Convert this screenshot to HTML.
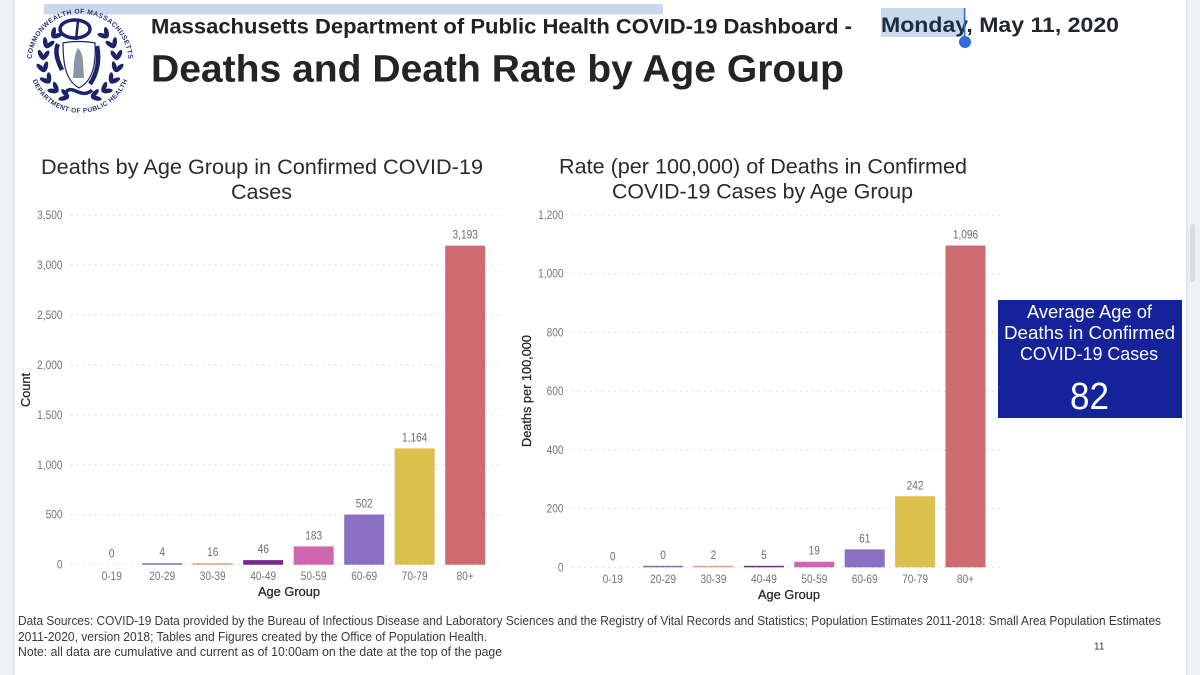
<!DOCTYPE html>
<html lang="en">
<head>
<meta charset="utf-8">
<title>Massachusetts COVID-19 Dashboard: Deaths and Death Rate by Age Group</title>
<style>
  html, body { margin: 0; padding: 0; background: #fff; width: 1200px; height: 675px; overflow: hidden; }
  svg { display: block; font-family: "Liberation Sans", sans-serif; }
  .tick { font-size: 11.5px; fill: #747474; }
  .val { font-size: 11.5px; fill: #6c6c6c; }
  .ctitle { font-size: 21.5px; fill: #2b2b2b; }
  .axt { font-size: 12.5px; fill: #252525; stroke: #252525; stroke-width: .25px; }
  .foot { font-size: 12.5px; fill: #3a3a3a; }
  .kpi { font-size: 18px; fill: #fff; }
</style>
</head>
<body>
<svg id="page" width="1200" height="675" viewBox="0 0 1200 675">
  <rect x="0" y="0" width="1200" height="675" fill="#fff"/>
  <rect x="0" y="0" width="13" height="675" fill="#eff0f6"/>
  <rect x="13" y="0" width="1.5" height="675" fill="#dfe0e6"/>
  <rect x="1187" y="0" width="13" height="675" fill="#eff0f6"/>
  <rect x="1186" y="0" width="1.5" height="675" fill="#e3e4ea"/>
  <rect x="1190" y="224" width="5" height="58" rx="2.5" fill="#dcdde3"/>

  <rect x="44" y="4" width="619" height="10.5" fill="#c9d8ea"/>
  <rect x="881" y="8" width="84" height="29" fill="#c9d8ea"/>

  <g id="logo">
    <defs>
      <path id="arcTop" d="M 31.5 62 A 48.5 48.5 0 1 1 128.5 62"/>
      <path id="arcBot" d="M 31 76 A 51 51 0 0 0 129 76"/>
    </defs>
    <text font-size="6.8" font-weight="bold" fill="#2b3474"><textPath href="#arcTop" startOffset="50%" text-anchor="middle" textLength="146">COMMONWEALTH OF MASSACHUSETTS</textPath></text>
    <text font-size="6.6" font-weight="bold" fill="#2b3474"><textPath href="#arcBot" startOffset="50%" text-anchor="middle" textLength="122">DEPARTMENT OF PUBLIC HEALTH</textPath></text>
    <ellipse cx="75" cy="29" rx="15" ry="9" fill="none" stroke="#1b2468" stroke-width="3.5"/>
    <path d="M58 44 C 54 52 58 62 62 70 M97 46 C 100 60 97 74 90 84" fill="none" stroke="#1b2468" stroke-width="4.5"/>
    <path d="M78 21 L 76 40" fill="none" stroke="#1b2468" stroke-width="2.5"/>
    <path d="M63 43 C 72 41 86 41 95 43 C 96 62 94 80 79 88 C 65 80 63 62 63 43 Z" fill="#fff" stroke="#1b2468" stroke-width="1.2"/>
    <path d="M78 48 C 75 53 74 60 74 66 L 73 78 L 84 78 L 83 62 C 83 56 81 51 78 48 Z" fill="#8d93a8"/>
    <path d="M66 92 C 72 84 82 100 92 90" fill="none" stroke="#1b2468" stroke-width="3.5"/>
  </g>

  <text x="151" y="33.5" font-size="21" font-weight="bold" fill="#222" textLength="701" lengthAdjust="spacingAndGlyphs">Massachusetts Department of Public Health COVID-19 Dashboard -</text>
  <text x="151" y="81.5" font-size="38" font-weight="bold" fill="#242424" textLength="693" lengthAdjust="spacingAndGlyphs">Deaths and Death Rate by Age Group</text>
  <text x="881" y="32" font-size="21" font-weight="bold" fill="#23262e" textLength="238" lengthAdjust="spacingAndGlyphs"><tspan fill="#1d2c45">Monday</tspan>, May 11, 2020</text>
  <rect x="963.8" y="8" width="1.6" height="34" fill="#2f6ad6"/>
  <circle cx="965" cy="42" r="6" fill="#2f6ad6"/>

  <text class="ctitle" x="41" y="174" textLength="442" lengthAdjust="spacingAndGlyphs">Deaths by Age Group in Confirmed COVID-19</text>
  <text class="ctitle" x="231" y="199" textLength="61" lengthAdjust="spacingAndGlyphs">Cases</text>
  <text class="ctitle" x="559" y="173.5" textLength="408" lengthAdjust="spacingAndGlyphs">Rate (per 100,000) of Deaths in Confirmed</text>
  <text class="ctitle" x="612" y="198.5" textLength="301" lengthAdjust="spacingAndGlyphs">COVID-19 Cases by Age Group</text>

  <g id="chart-deaths"></g>
  <g id="chart-rate"></g>

  <text class="axt" transform="translate(30 390) rotate(-90)" text-anchor="middle" textLength="34" lengthAdjust="spacingAndGlyphs">Count</text>
  <text class="axt" transform="translate(531 391) rotate(-90)" text-anchor="middle" textLength="112" lengthAdjust="spacingAndGlyphs">Deaths per 100,000</text>
  <text class="axt" x="258" y="596" textLength="62" lengthAdjust="spacingAndGlyphs">Age Group</text>
  <text class="axt" x="758" y="599" textLength="62" lengthAdjust="spacingAndGlyphs">Age Group</text>

  <g>
    <rect x="998" y="300" width="184" height="118" fill="#14239a"/>
    <text class="kpi" x="1027" y="318" textLength="125" lengthAdjust="spacingAndGlyphs">Average Age of</text>
    <text class="kpi" x="1004" y="339" textLength="171" lengthAdjust="spacingAndGlyphs">Deaths in Confirmed</text>
    <text class="kpi" x="1020" y="360" textLength="138" lengthAdjust="spacingAndGlyphs">COVID-19 Cases</text>
    <text x="1070" y="409" font-size="38" fill="#fff" textLength="39" lengthAdjust="spacingAndGlyphs">82</text>
  </g>

  <text class="foot" x="18" y="625" textLength="1143" lengthAdjust="spacingAndGlyphs">Data Sources: COVID-19 Data provided by the Bureau of Infectious Disease and Laboratory Sciences and the Registry of Vital Records and Statistics; Population Estimates 2011-2018: Small Area Population Estimates</text>
  <text class="foot" x="18" y="641" textLength="469" lengthAdjust="spacingAndGlyphs">2011-2020, version 2018; Tables and Figures created by the Office of Population Health.</text>
  <text class="foot" x="18" y="656" textLength="484" lengthAdjust="spacingAndGlyphs">Note: all data are cumulative and current as of 10:00am on the date at the top of the page</text>
  <text x="1094" y="649.5" font-size="10" fill="#333">11</text>
</svg>

<script>
const ageGroups = ["0-19", "20-29", "30-39", "40-49", "50-59", "60-69", "70-79", "80+"];
const deathCounts = [0, 4, 16, 46, 183, 502, 1164, 3193];
const deathRates = [0, 0.2, 2, 5, 19, 61, 242, 1096];
const countTicks = [0, 500, 1000, 1500, 2000, 2500, 3000, 3500];
const rateTicks = [0, 200, 400, 600, 800, 1000, 1200];
const barColors = ["#5f6bb0", "#6f76b4", "#e2a283", "#74288c", "#d066b0", "#8b6fc4", "#dbc04e", "#cd6b70"];

const NS = "http://www.w3.org/2000/svg";
function fmt(v) {
  return Math.round(v).toLocaleString("en-US");
}
function condense(textEl) {
  textEl.setAttribute("textLength", textEl.getComputedTextLength() * 0.88);
  textEl.setAttribute("lengthAdjust", "spacingAndGlyphs");
}
function drawChart(rootId, values, ticks, box) {
  const root = document.getElementById(rootId);
  const maxTick = ticks[ticks.length - 1];
  const yScale = v => box.y0 - (v / maxTick) * (box.y0 - box.yTop);
  const xScale = i => box.x0 + i * box.step;

  ticks.forEach(t => {
    const line = document.createElementNS(NS, "line");
    line.setAttribute("x1", box.gridL);
    line.setAttribute("x2", box.gridR);
    line.setAttribute("y1", yScale(t));
    line.setAttribute("y2", yScale(t));
    line.setAttribute("stroke", "#d4d4d4");
    line.setAttribute("stroke-width", "1");
    line.setAttribute("stroke-dasharray", "1.5 4.5");
    
    
    root.appendChild(line);

    const label = document.createElementNS(NS, "text");
    label.setAttribute("class", "tick");
    label.setAttribute("x", box.gridL - 8.5);
    label.setAttribute("y", yScale(t) + 4);
    label.setAttribute("text-anchor", "end");
    label.textContent = fmt(t);
    
    
    root.appendChild(label);
    condense(label);
  });

  values.forEach((v, i) => {
    const cx = xScale(i);
    let top = yScale(v);
    if (v > 0 && box.y0 - top < 1.5) top = box.y0 - 1.5;

    if (v > 0) {
      const bar = document.createElementNS(NS, "rect");
      bar.setAttribute("x", cx - 20);
      bar.setAttribute("y", top);
      bar.setAttribute("width", 40);
      bar.setAttribute("height", box.y0 - top);
      bar.setAttribute("fill", barColors[i]);
      
      
      root.appendChild(bar);
    }

    const val = document.createElementNS(NS, "text");
    val.setAttribute("class", "val");
    val.setAttribute("x", cx);
    val.setAttribute("y", top - 7);
    val.setAttribute("text-anchor", "middle");
    val.textContent = fmt(v);
    
    
    root.appendChild(val);
    condense(val);

    const cat = document.createElementNS(NS, "text");
    cat.setAttribute("class", "tick");
    cat.setAttribute("x", cx);
    cat.setAttribute("y", box.y0 + 15.5);
    cat.setAttribute("text-anchor", "middle");
    cat.textContent = ageGroups[i];
    
    
    root.appendChild(cat);
    condense(cat);
  });
}

drawChart("chart-deaths", deathCounts, countTicks,
  { y0: 564.7, yTop: 215, x0: 111.7, step: 50.5, gridL: 71, gridR: 503 });
drawChart("chart-rate", deathRates, rateTicks,
  { y0: 567.3, yTop: 215, x0: 612.7, step: 50.4, gridL: 572, gridR: 1003 });

/* seal laurel leaves */
const logo = document.getElementById("logo");
[-1, 1].forEach(side => {
  for (let k = 0; k < 7; k++) {
    const deg = 48 + k * 19;
    const rad = deg * Math.PI / 180;
    const bx = 37 * Math.sin(rad);
    const by = -37 * Math.cos(rad);
    [-30, 30].forEach(tilt => {
      const th = (deg + tilt) * Math.PI / 180;
      const lx = bx - 5 * Math.cos(th);
      const ly = by - 5 * Math.sin(th);
      const px = 80 + side * lx;
      const py = 62 + ly;
      const leaf = document.createElementNS(NS, "ellipse");
      leaf.setAttribute("cx", px);
      leaf.setAttribute("cy", py);
      leaf.setAttribute("rx", 5.5);
      leaf.setAttribute("ry", 2.3);
      leaf.setAttribute("fill", "#1b2468");
      leaf.setAttribute("transform", "rotate(" + (side * (deg + tilt)) + " " + px + " " + py + ")");
      
      
      logo.appendChild(leaf);
    });
  }
});
</script>
</body>
</html>
